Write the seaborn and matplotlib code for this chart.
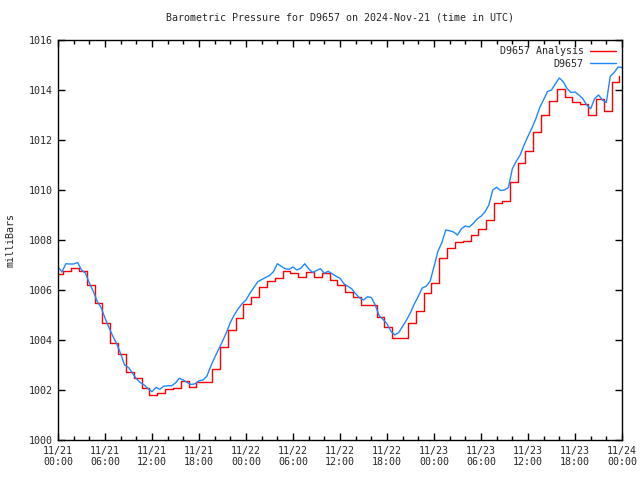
import numpy as np
import pandas as pd
import matplotlib
matplotlib.use("Agg")
import matplotlib.pyplot as plt
import matplotlib.dates as mdates
import seaborn as sns

sns.set_style("ticks")
plt.rcParams["font.family"] = ["DejaVu Sans Mono", "DejaVu Sans"]

# data (hours since 2024-11-21 00:00 UTC)
start = pd.Timestamp("2024-11-21 00:00")

# hourly analysis values (steps change ~20 min before the hour mark + 1h)
analysis = [
    1006.65, 1006.75, 1006.90, 1006.75, 1006.20, 1005.50, 1004.67, 1003.87,
    1003.43, 1002.71, 1002.47, 1002.09, 1001.80, 1001.87, 1002.04, 1002.08,
    1002.35, 1002.13, 1002.31, 1002.31, 1002.84, 1003.73, 1004.39, 1004.87,
    1005.45, 1005.73, 1006.11, 1006.36, 1006.47, 1006.75, 1006.67, 1006.53,
    1006.71, 1006.53, 1006.67, 1006.40, 1006.20, 1005.91, 1005.71, 1005.40,
    1005.40, 1004.93, 1004.51, 1004.08, 1004.08, 1004.69, 1005.17, 1005.87,
    1006.30, 1007.28, 1007.68, 1007.91, 1007.96, 1008.20, 1008.44, 1008.80,
    1009.47, 1009.56, 1010.31, 1011.09, 1011.56, 1012.31, 1012.99, 1013.55,
    1014.03, 1013.73, 1013.53, 1013.43, 1012.99, 1013.65, 1013.15, 1014.33,
    1014.57,
]
analysis_offset_min = -20

# station observations every 30 minutes
observed = [
    1006.93, 1006.72, 1007.05, 1007.04, 1007.04, 1007.10, 1006.80, 1006.68,
    1006.28, 1005.95, 1005.55, 1005.30, 1004.88, 1004.50, 1004.15, 1003.85,
    1003.45, 1003.00, 1002.90, 1002.68, 1002.45, 1002.30, 1002.20, 1002.05,
    1001.93, 1002.10, 1002.03, 1002.15, 1002.17, 1002.17, 1002.28, 1002.47,
    1002.40, 1002.30, 1002.22, 1002.25, 1002.37, 1002.40, 1002.55, 1002.95,
    1003.30, 1003.62, 1003.95, 1004.30, 1004.70, 1005.00, 1005.25, 1005.45,
    1005.60, 1005.87, 1006.10, 1006.33, 1006.42, 1006.50, 1006.58, 1006.73,
    1007.05, 1006.95, 1006.85, 1006.83, 1006.92, 1006.80, 1006.87, 1007.05,
    1006.85, 1006.70, 1006.78, 1006.85, 1006.67, 1006.75, 1006.65, 1006.55,
    1006.47, 1006.25, 1006.15, 1006.05, 1005.85, 1005.68, 1005.60, 1005.73,
    1005.70, 1005.40, 1004.97, 1004.82, 1004.65, 1004.35, 1004.20, 1004.30,
    1004.55, 1004.80, 1005.10, 1005.45, 1005.75, 1006.08, 1006.15, 1006.35,
    1006.93, 1007.55, 1007.89, 1008.40, 1008.37, 1008.32, 1008.20, 1008.45,
    1008.56, 1008.52, 1008.66, 1008.84, 1008.95, 1009.12, 1009.40, 1010.00,
    1010.11, 1009.98, 1010.00, 1010.10, 1010.85, 1011.15, 1011.40, 1011.80,
    1012.15, 1012.48, 1012.85, 1013.30, 1013.62, 1013.94, 1014.00, 1014.25,
    1014.48, 1014.33, 1014.05, 1013.90, 1013.92, 1013.80, 1013.65, 1013.40,
    1013.25, 1013.65, 1013.80, 1013.60, 1013.50, 1014.55, 1014.70, 1014.92,
    1014.90,
]

df_an = pd.DataFrame({
    "time": start + pd.to_timedelta(np.arange(len(analysis)) * 60 + analysis_offset_min, unit="min"),
    "pressure": analysis,
})
df_obs = pd.DataFrame({
    "time": start + pd.to_timedelta(np.arange(len(observed)) * 30, unit="min"),
    "pressure": observed,
})

fig = plt.figure(figsize=(6.4, 4.8), dpi=100)
ax = fig.add_axes([58 / 640, 40 / 480, 564 / 640, 400 / 480])

sns.lineplot(data=df_an, x="time", y="pressure", color="#ff0000", lw=1.0,
             drawstyle="steps-post", label="D9657 Analysis", ax=ax)
sns.lineplot(data=df_obs, x="time", y="pressure", color="#1e88ff", lw=1.0,
             label="D9657", ax=ax)

ax.set_xlim(start, start + pd.Timedelta(hours=72))
ax.set_ylim(1000, 1016)
ax.set_yticks(np.arange(1000, 1017, 2))
ax.xaxis.set_major_locator(mdates.HourLocator(byhour=[0, 6, 12, 18]))
ax.xaxis.set_minor_locator(mdates.HourLocator(byhour=range(0, 24, 2)))
ax.xaxis.set_major_formatter(mdates.DateFormatter("%m/%d\n%H:%M"))

ax.tick_params(which="both", direction="in", top=True, right=True,
               labelsize=7.2, color="black", width=1)
ax.tick_params(which="major", length=5, pad=4)
ax.tick_params(which="minor", length=3)
for s in ax.spines.values():
    s.set_color("black")
    s.set_linewidth(1)

ax.set_xlabel("")
ax.set_ylabel("milliBars", fontsize=7.2, labelpad=9)
ax.set_title("Barometric Pressure for D9657 on 2024-Nov-21 (time in UTC)",
             fontsize=7.2, pad=14)

ax.legend(loc="upper right", frameon=False, markerfirst=False, fontsize=7.2,
          handlelength=2.6, handletextpad=0.6, borderaxespad=0.25,
          labelspacing=0.25)

fig.savefig("out.png", dpi=100)
